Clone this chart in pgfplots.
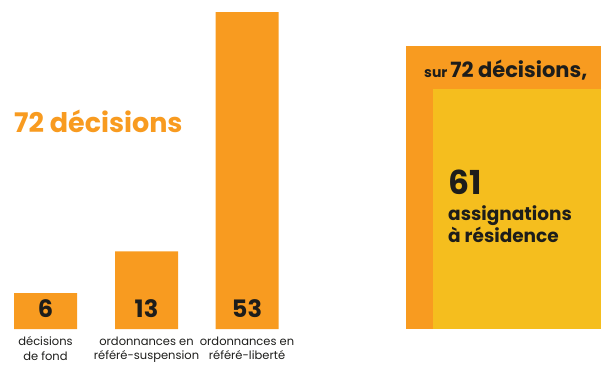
\documentclass[border=0pt]{standalone}
\usepackage{fontspec}
\setmainfont{Poppins}
\usepackage{pgfplots}
\pgfplotsset{compat=1.18}
\definecolor{bar}{RGB}{248,155,32}
\definecolor{inner}{RGB}{245,190,30}
\definecolor{ink}{RGB}{29,29,27}
\begin{document}
\begin{tikzpicture}[x=1pt,y=1pt]
\useasboundingbox (0,0) rectangle (616,376);
\begin{axis}[
  at={(0pt,47pt)}, anchor=south west,
  scale only axis, width=300pt, height=317pt,
  xmin=0, xmax=300, ymin=0, ymax=53,
  axis line style={draw=none}, major tick length=0pt,
  ytick=\empty,
  xtick={45.5,146.5,247},
  xticklabels={décisions\\de fond, ordonnances en\\référé-suspension, ordonnances en\\référé-liberté},
  xticklabel style={align=center, font=\fontsize{11.5}{14.5}\selectfont, text=ink, yshift=-4pt},
  clip=false,
  ybar, bar width=63pt,
]
\addplot[fill=bar, draw=none] coordinates {(45.5,6) (146.5,13) (247,53)};
\node[anchor=base, font=\bfseries\fontsize{24}{24}\selectfont, text=ink] at (axis cs:45.5,2) {6};
\node[anchor=base, font=\bfseries\fontsize{24}{24}\selectfont, text=ink] at (axis cs:146.5,2) {13};
\node[anchor=base, font=\bfseries\fontsize{24}{24}\selectfont, text=ink] at (axis cs:247,2) {53};
\node[anchor=base west, inner sep=0pt, font=\bfseries\fontsize{27}{27}\selectfont, text=bar] at (axis cs:14,32.9) {72 décisions};
\end{axis}
\begin{axis}[
  at={(406pt,47pt)}, anchor=south west,
  scale only axis, width=195pt, height=283pt,
  xmin=0, xmax=195, ymin=0, ymax=72,
  hide axis, clip=false,
]
\addplot[fill=bar, draw=none] coordinates {(0,0) (0,72) (195,72) (195,0)} -- cycle;
\addplot[fill=inner, draw=none] coordinates {(27,0) (27,61) (195,61) (195,0)} -- cycle;
\node[anchor=base west, inner sep=0pt, text=ink] at (axis cs:18,63.9) {\bfseries\fontsize{14}{14}\selectfont sur \fontsize{21}{21}\selectfont 72 décisions,};
\node[anchor=base west, inner sep=0pt, text=ink, font=\bfseries\fontsize{33}{33}\selectfont] at (axis cs:42,34.1) {61};
\node[anchor=base west, inner sep=0pt, text=ink, font=\bfseries\fontsize{18.5}{18.5}\selectfont] at (axis cs:42,27.7) {assignations};
\node[anchor=base west, inner sep=0pt, text=ink, font=\bfseries\fontsize{18.5}{18.5}\selectfont] at (axis cs:42,21.9) {à résidence};
\end{axis}
\end{tikzpicture}
\end{document}
